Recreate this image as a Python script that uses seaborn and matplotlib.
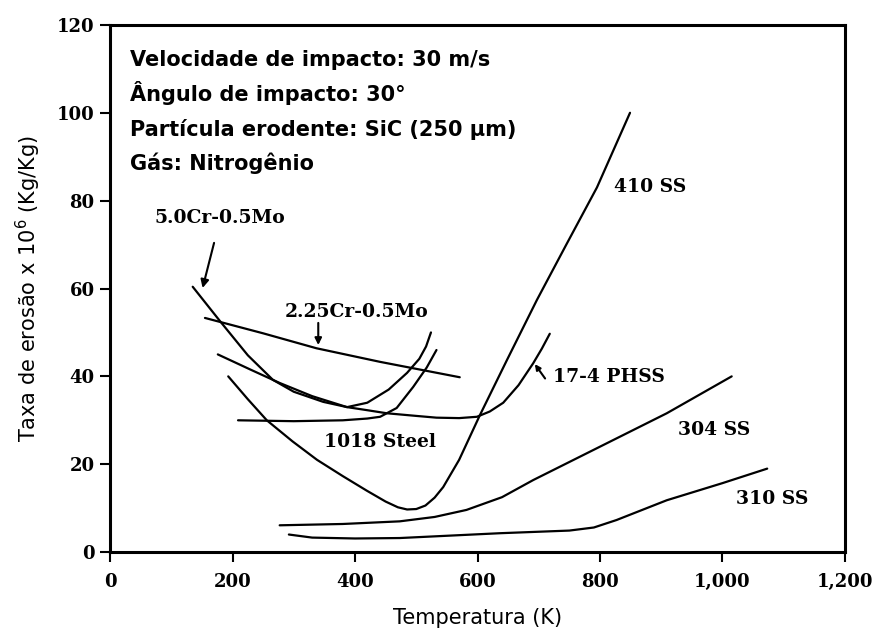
import numpy as np
import pandas as pd
import matplotlib
matplotlib.use("Agg")
import matplotlib.pyplot as plt
import seaborn as sns

# ---- data ----
cr5_x = [135, 180, 225, 266, 300, 348, 387, 420, 455, 485, 505, 516, 524]
cr5_y = [60.4, 52.5, 44.8, 39.2, 36.5, 34.2, 33.0, 34.0, 37.0, 40.8, 44.0, 46.8, 50.0]

cr225_x = [155, 250, 337, 441, 571]
cr225_y = [53.3, 49.8, 46.4, 43.3, 39.8]

st1018_x = [209, 300, 380, 420, 441, 468, 495, 517, 533]
st1018_y = [30.0, 29.8, 30.0, 30.4, 30.8, 32.8, 37.6, 42.0, 46.0]

ph17_x = [176, 230, 277, 330, 387, 420, 452, 500, 533, 570, 599, 620, 642, 667, 691, 705, 718]
ph17_y = [45.0, 41.5, 38.5, 35.5, 33.0, 32.3, 31.6, 31.0, 30.6, 30.5, 30.8, 32.0, 34.0, 38.0, 43.0, 46.3, 49.7]

ss410_x = [193, 225, 256, 298, 338, 380, 419, 450, 470, 485, 500, 515, 530, 544, 570, 604, 648, 697, 745, 795, 849]
ss410_y = [40.0, 34.8, 30.0, 25.2, 21.0, 17.3, 14.0, 11.5, 10.2, 9.7, 9.8, 10.6, 12.4, 14.8, 21.0, 31.2, 43.7, 57.4, 70.0, 83.0, 100.0]

ss304_x = [277, 380, 473, 530, 582, 640, 691, 800, 909, 1015]
ss304_y = [6.1, 6.4, 7.0, 8.0, 9.6, 12.5, 16.4, 24.0, 31.6, 40.0]

ss310_x = [292, 330, 400, 473, 637, 750, 790, 827, 909, 1000, 1073]
ss310_y = [4.0, 3.3, 3.1, 3.2, 4.3, 4.9, 5.6, 7.3, 11.8, 15.7, 19.0]

series = {
    "5.0Cr-0.5Mo": (cr5_x, cr5_y),
    "2.25Cr-0.5Mo": (cr225_x, cr225_y),
    "1018 Steel": (st1018_x, st1018_y),
    "17-4 PHSS": (ph17_x, ph17_y),
    "410 SS": (ss410_x, ss410_y),
    "304 SS": (ss304_x, ss304_y),
    "310 SS": (ss310_x, ss310_y),
}

x_ticks = [0, 200, 400, 600, 800, 1000, 1200]
x_tick_labels = ["0", "200", "400", "600", "800", "1,000", "1,200"]
y_ticks = [0, 20, 40, 60, 80, 100, 120]

info_lines = [
    "Velocidade de impacto: 30 m/s",
    "Ângulo de impacto: 30°",
    "Partícula erodente: SiC (250 µm)",
    "Gás: Nitrogênio",
]

rows = []
for name, (xs, ys) in series.items():
    for i, (xv, yv) in enumerate(zip(xs, ys)):
        rows.append({"material": name, "T": xv, "E": yv, "order": i})
df = pd.DataFrame(rows)

sns.set_style("white")
plt.rcParams.update({"text.color": "black", "axes.labelcolor": "black",
                     "xtick.color": "black", "ytick.color": "black"})

fig = plt.figure(figsize=(8.76, 6.39), dpi=100)
ax = fig.add_axes([0.1256, 0.136, 0.8390, 0.825])

sns.lineplot(data=df, x="T", y="E", hue="material", units="material",
             estimator=None, sort=False,
             palette=["black"] * len(series), linewidth=1.6, legend=False, ax=ax)

ax.set_xlim(0, 1200)
ax.set_ylim(0, 120)
ax.set_xticks(x_ticks)
ax.set_xticklabels(x_tick_labels)
ax.set_yticks(y_ticks)

SERIF = "DejaVu Serif"
for lab in ax.get_xticklabels() + ax.get_yticklabels():
    lab.set_fontfamily(SERIF)
    lab.set_fontweight("bold")
    lab.set_fontsize(13)
    lab.set_color("black")

ax.tick_params(axis="both", direction="out", length=7, width=1.5,
               colors="black", bottom=True, left=True, top=False, right=False)
ax.tick_params(axis="x", pad=8)
ax.tick_params(axis="y", pad=4)
for sp in ax.spines.values():
    sp.set_visible(True)
    sp.set_color("black")
    sp.set_linewidth(2.2)

ax.set_xlabel("Temperatura (K)", fontsize=15, family="DejaVu Sans", labelpad=12, color="black")
ax.set_ylabel("Taxa de erosão x 10$^6$ (Kg/Kg)", fontsize=15, family="DejaVu Sans",
              labelpad=10, color="black")

# info block
for i, line in enumerate(info_lines):
    ax.text(0.027, 0.922 - i * 0.066, line, transform=ax.transAxes, color="black",
            fontsize=15, family="DejaVu Sans", fontweight="bold", va="baseline", ha="left")

# curve labels
lab_kw = dict(fontsize=13.5, family=SERIF, fontweight="bold", color="black")
ax.text(180, 76, "5.0Cr-0.5Mo", ha="center", va="center", **lab_kw)
ax.annotate("", xy=(150, 59.5), xytext=(171, 71),
            arrowprops=dict(arrowstyle="-|>", color="black", lw=1.5, mutation_scale=12))
ax.text(403, 54.7, "2.25Cr-0.5Mo", ha="center", va="center", **lab_kw)
ax.annotate("", xy=(340, 46.5), xytext=(340, 52.8),
            arrowprops=dict(arrowstyle="-|>", color="black", lw=1.5, mutation_scale=10))
ax.text(441, 25, "1018 Steel", ha="center", va="center", **lab_kw)
ax.text(723, 39.9, "17-4 PHSS", ha="left", va="center", **lab_kw)
ax.annotate("", xy=(691, 43.3), xytext=(713, 39.0),
            arrowprops=dict(arrowstyle="-|>", color="black", lw=1.5, mutation_scale=8))
ax.text(882, 83, "410 SS", ha="center", va="center", **lab_kw)
ax.text(986, 27.8, "304 SS", ha="center", va="center", **lab_kw)
ax.text(1081, 12.1, "310 SS", ha="center", va="center", **lab_kw)

fig.savefig("out.png", dpi=100)
